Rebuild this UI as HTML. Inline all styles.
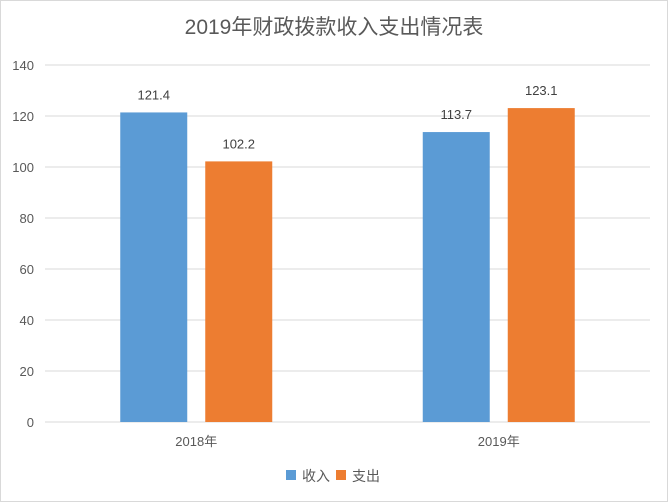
<!DOCTYPE html>
<html><head><meta charset="utf-8"><style>
body{margin:0;background:#fff}
svg{display:block;font-family:"Liberation Sans","Noto Sans CJK SC",sans-serif}
</style></head><body>
<svg id="c" width="668" height="502">
<rect x="0.5" y="0.5" width="667" height="501" fill="#fff" stroke="#d9d9d9"/>
<text x="334" y="34" text-anchor="middle" font-size="21" fill="#595959">2019年财政拨款收入支出情况表</text>
<g id="grid"></g><g id="bars"></g>
<rect x="286" y="470" width="10" height="10" fill="#5b9bd5"/>
<text x="302" y="481" font-size="14" fill="#595959">收入</text>
<rect x="336" y="470" width="10" height="10" fill="#ed7d31"/>
<text x="352" y="481" font-size="14" fill="#595959">支出</text>
</svg>
<script>
const categories=["2018年","2019年"];
const income=[121.4,113.7];
const expense=[102.2,123.1];
const ticks=[0,20,40,60,80,100,120,140];
const NS="http://www.w3.org/2000/svg";
const L=45,R=650,T=65,B=422,maxV=140;
const y=v=>B-(v/maxV)*(B-T);
const cw=(R-L)/categories.length;
const grid=document.getElementById("grid"),bars=document.getElementById("bars");
function mk(p,tag,a,txt){const e=document.createElementNS(NS,tag);for(const k in a)e.setAttribute(k,a[k]);if(txt!==undefined)e.textContent=txt;p.appendChild(e);return e;}
ticks.forEach(t=>{
  const l=mk(grid,"line",{x1:L,x2:R,y1:y(t),y2:y(t),stroke:t===0?"#d9d9d9":"#d9d9d9","stroke-width":1});
  
  
  const tx=mk(grid,"text",{x:34,y:y(t)+5,"text-anchor":"end","font-size":13,fill:"#595959"},t);
  
  
});
const bw=67,gap=18;
categories.forEach((c,i)=>{
  const cx=L+cw*(i+0.5);
  const xs=[cx-gap/2-bw,cx+gap/2];
  [[income,"#5b9bd5","bar-income"],[expense,"#ed7d31","bar-expense"]].forEach((s,j)=>{
    const v=s[0][i];
    const r=mk(bars,"rect",{x:xs[j],y:y(v),width:bw,height:B-y(v),fill:s[1]});
    
    
    const t=mk(bars,"text",{x:xs[j]+bw/2,y:y(v)-13,"text-anchor":"middle","font-size":13,fill:"#404040"},v.toFixed(1));
    
    
  });
  const ct=mk(bars,"text",{x:cx,y:446,"text-anchor":"middle","font-size":13,fill:"#595959"},c);
  
  
});
</script>
</body></html>
